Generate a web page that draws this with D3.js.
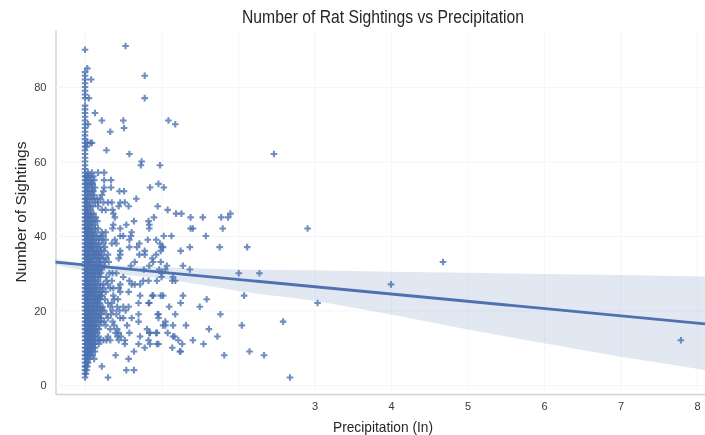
<!DOCTYPE html>
<html><head><meta charset="utf-8">
<script src="https://cdn.jsdelivr.net/npm/d3@7/dist/d3.min.js"></script>
<style>html,body{margin:0;padding:0;background:#fff}svg{display:block;filter:blur(.4px)}text{font-family:"Liberation Sans",Arial,sans-serif}</style>
</head><body><svg id="c" width="705" height="435"></svg>
<script>
const titleText="Number of Rat Sightings vs Precipitation";
const xLabelText="Precipitation (In)";
const yLabelText="Number of Sightings";
const xTicks=[0,1,2,3,4,5,6,7,8];
const xTickLabels=["","","","3","4","5","6","7","8"];
const yTicks=[0,20,40,60,80];
// regression line and confidence band
const fitX=[-0.386,8.105];
const fitY=[33,16.4];
const bandX=[-0.386,0,1,1.5,2,3,4,5,6,7,8.105];
const bandHigh=[33.8,32.5,31.6,31.3,31,30.8,30.4,30.1,29.8,29.5,29.1];
const bandLow=[32.2,30.7,28.6,27,25.2,22.6,18.9,14.9,11.2,7.6,4];
// sightings level -> precipitation values of the days at that level
const sightingLevels=[91,90,85,84,83,82,81,80,79,78,77,75,74,73,72,71,70,69,68,67,66,65,64,63,62,61,60,59,58,57,56,55,54,53,52,51,50,49,48,47,46,45,44,43,42,41,40,39,38,37,36,35,34,33,32,31,30,29,28,27,26,25,24,23,22,21,20,19,18,17,16,15,14,13,12,11,10,9,8,7,6,5,4,3,2];
const precipByLevel=[
[.53],[0],[.03],[0],[0,.78],[0,.08],[0],[0],[0],[0],[0,.05,.78],[0],[0],[0,.13],[0],[0,.22,.50,1.09],[0,.04,1.18],[0,.51],[0,.33],[0],[0],[0,.03,.07,.09],[0,.02],[0,.28],[0,.58,2.47],[0],[0,.74],[0,.73,.98],[0],
[0,.04,.09,.17,.25],[0,.03,.07,.11],[0,.02,.08,.12,.25,.34],[0,.04,.06,.10,.96],[0,.03,.09,.13,.25,.34,.85,1.03],[0,.02,.06,.11,.24,.45,.51],[0,.04,.08,.12,.22],[0,.03,.09,.16,.20,.67],
[0,.02,.06,.13,.17,.24,.30,.35,.46,.52],[0,.04,.10,.17,.44,.57,.95],[0,.03,.07,.22,.27,.36,1.08],[0,.02,.05,.11,.37,1.19,1.26,1.90],[0,.03,.08,.14,.39,.90,1.38,1.54,1.78,1.87],[0,.02,.06,.12,.64,.83],[0,.04,.09,.37,.54,.84],[0,.03,.07,.13,.36,.46,.84,1.38,1.41,1.80,2.91],[0,.02,.05,.10,.22,.27,.61],
[0,.03,.08,.12,.24,.46,.50,.60,1.03,1.13,1.58],[0,.02,.06,.11,.18,.27,.39,.58,.82,.93],[0,.04,.09,.14,.35,.41,.71,.98],[0,.03,.07,.12,.16,.58,.68,1.0,1.02,1.37,1.76,2.12],[0,.02,.05,.07,.10,.21,.25,.46,.78,.99,1.25],[0,.03,.08,.13,.18,.30,.46,.71,.78,.93],[0,.02,.06,.11,.17,.24,.28,.44,.88],[0,.04,.09,.15,.20,.26,.31,.65,.89,.99,4.68],[0,.03,.07,.13,.19,.25,.60,.84,1.07,1.28],[0,.02,.05,.10,.16,.22,.77,.97,1.05,1.37],
[0,.03,.08,.12,.18,.32,.36,.41,1.0,2.01,2.28],[0,.02,.06,.11,.17,.28,.50,1.0,1.15],[0,.04,.09,.14,.28,.35,.58,.76,.83,.94,1.14,1.18],[0,.03,.07,.13,.20,.30,.46,.61,.65,.72,4.0],[0,.02,.05,.11,.16,.33,.37,.44],[0,.04,.08,.12,.19,.27,.46,.57],[0,.03,.07,.13,.18,.22,.37,.72,.88,.89,.99,1.02,1.28,2.08],[0,.02,.06,.11,.15,.20,.26,.38,.43,1.59],[0,.04,.09,.14,.19,.30,.35,.70,.83,.84,1.25,3.04],[0,.03,.07,.12,.17,.23,.33,.42,.50,.57,1.10,1.50],
[0,.02,.05,.10,.16,.22,.36,.45,.53],[0,.04,.08,.13,.18,.28,.34,.41,.70,.95,.96,1.18,1.77],[0,.03,.06,.11,.16,.21,.30,.46,.50,.61,.96],[0,.02,.05,.09,.14,.25,.36,.70,1.05,2.59],[0,.04,.08,.12,.27,.38,.55,1.02,1.05,1.15,1.32,2.05],[0,.03,.06,.10,.15,.33,.42,.81,1.62],[0,.02,.05,.09,.13,.40,.44,.58,.84,.85,.93,.94,1.08],[0,.04,.07,.11,.30,.42,.47,.72,1.15,1.17,1.73],[0,.03,.06,.10,.14,.24,.28,.33,.44,.52,.83,1.22,1.41,7.79],[0,.02,.05,.08,.18,.52,.70,.85,.94,.96,1.27,1.55],
[0,.04,.07,.11,.78,1.14],[0,.03,.06,.09,.13,.64,1.24,1.25,2.15],[0,.02,.05,.10,.40,1.82,2.34],[0,.03,.06,.12,.57],[0,.02,.04],[0,.01,.03,.22],[0,.02,.54,.64],[0,.01],[0,.30,2.68]
];
// further days in the crowded strip beside the zero column
const crowdedLevels=[56,54,52,50,48,46,45,44,43,42,41,40,39,38,37,36,35,34,33,32,31,30,29,28,27,26,25,24,23,22,21,20,19,18,17,16,15,14,13,12,11,10,9,8];
const crowdedPrecip=[
[.01,.05],[.01,.08],[.04,.09],[.01,.06,.12],[.02,.07],[.03,.08],[.01,.05,.11],[.04,.09,.16],[.01,.06,.13],[.01,.05,.10,.17],[.03,.08,.14],[.01,.05,.10,.16,.20],[.03,.08,.14,.22],[.01,.06,.11,.18,.24],[.01,.05,.09,.20,.26],[.03,.12,.15,.18],[.01,.05,.11,.16,.22],[.03,.08,.14,.20],[.01,.06,.11,.18],[.01,.05,.10,.16,.22],[.03,.08,.13,.19],[.01,.05,.10,.15,.21],[.03,.08,.13,.20],[.01,.06,.11,.17],[.01,.05,.10,.16,.24],[.03,.08,.13,.19,.24],[.01,.06,.10,.15,.22],[.01,.05,.10,.15,.20],[.03,.08,.13,.17],[.01,.06,.11,.16],[.01,.05,.10,.15,.20],[.03,.08,.13,.19,.25],[.01,.06,.10,.15,.21],[.01,.04,.08,.13,.18],[.03,.07,.11,.17,.21],[.01,.05,.10,.14,.19],[.01,.04,.08,.12,.18],[.03,.07,.11,.16],[.01,.05,.09,.13,.18],[.01,.04,.08,.12,.17,.20],[.03,.06,.10,.13],[.01,.05,.09,.13],[.01,.04,.08],[.01,.04,.07]
];
const blue="#4c72b0";
const svg=d3.select("#c");
const x=d3.scaleLinear().domain([-0.386,8.105]).range([55.5,705]);
const y=d3.scaleLinear().domain([-2.42,95.3]).range([394,30]);

// grid + axes
const gx=svg.append("g").attr("transform","translate(0,394)")
  .call(d3.axisBottom(x).tickValues(xTicks).tickFormat((d,i)=>xTickLabels[i]).tickSizeInner(-364).tickSizeOuter(0).tickPadding(8));
const gy=svg.append("g").attr("transform","translate(55.5,0)")
  .call(d3.axisLeft(y).tickValues(yTicks).tickSizeInner(-649.5).tickSizeOuter(0).tickPadding(9));
gx.selectAll(".tick line").attr("stroke","#f5f6f8").attr("stroke-width",1);
gy.selectAll(".tick line").attr("stroke","#f5f6f8").attr("stroke-width",1);
gx.select(".domain").attr("stroke","#d2d2d2").attr("stroke-width",1.4);
gy.select(".domain").attr("stroke","#d2d2d2").attr("stroke-width",1.4);
gx.selectAll("text").attr("fill","#3a3a3a").style("font-size","11px");
gy.selectAll("text").attr("fill","#3a3a3a").style("font-size","11px");

// band
const bandData=bandX.map((v,i)=>({x:v,lo:bandLow[i],hi:bandHigh[i]}));
svg.append("path").datum(bandData)
  .attr("d",d3.area().x(d=>x(d.x)).y0(d=>y(d.lo)).y1(d=>y(d.hi)))
  .attr("fill",blue).attr("fill-opacity",.16);

// points
const pts=sightingLevels.flatMap((lvl,i)=>precipByLevel[i].map(p=>({p,lvl})))
  .concat(crowdedLevels.flatMap((lvl,i)=>crowdedPrecip[i].map(p=>({p,lvl}))));
svg.append("g").selectAll("path").data(pts).join("path")
  .attr("transform",d=>`translate(${x(d.p)},${y(d.lvl)})`)
  .attr("d","M-3.3,0H3.3M0,-3.3V3.3")
  .attr("stroke",blue).attr("stroke-width",2.1).attr("stroke-opacity",.8).attr("fill","none");

// fit line
svg.append("path").datum(fitX.map((v,i)=>[v,fitY[i]]))
  .attr("d",d3.line().x(d=>x(d[0])).y(d=>y(d[1])))
  .attr("stroke",blue).attr("stroke-width",2.8).attr("fill","none");

// text
svg.append("text").attr("x",383).attr("y",23).attr("text-anchor","middle")
  .attr("textLength",282).attr("lengthAdjust","spacingAndGlyphs")
  .style("font-size","17.5px").attr("fill","#262626").text(titleText);
svg.append("text").attr("x",383).attr("y",432).attr("text-anchor","middle")
  .attr("textLength",100).attr("lengthAdjust","spacingAndGlyphs")
  .style("font-size","14.5px").attr("fill","#262626").text(xLabelText);
svg.append("text").attr("transform","translate(26,212) rotate(-90)").attr("text-anchor","middle")
  .attr("textLength",141).attr("lengthAdjust","spacingAndGlyphs")
  .style("font-size","15px").attr("fill","#262626").text(yLabelText);
</script></body></html>
